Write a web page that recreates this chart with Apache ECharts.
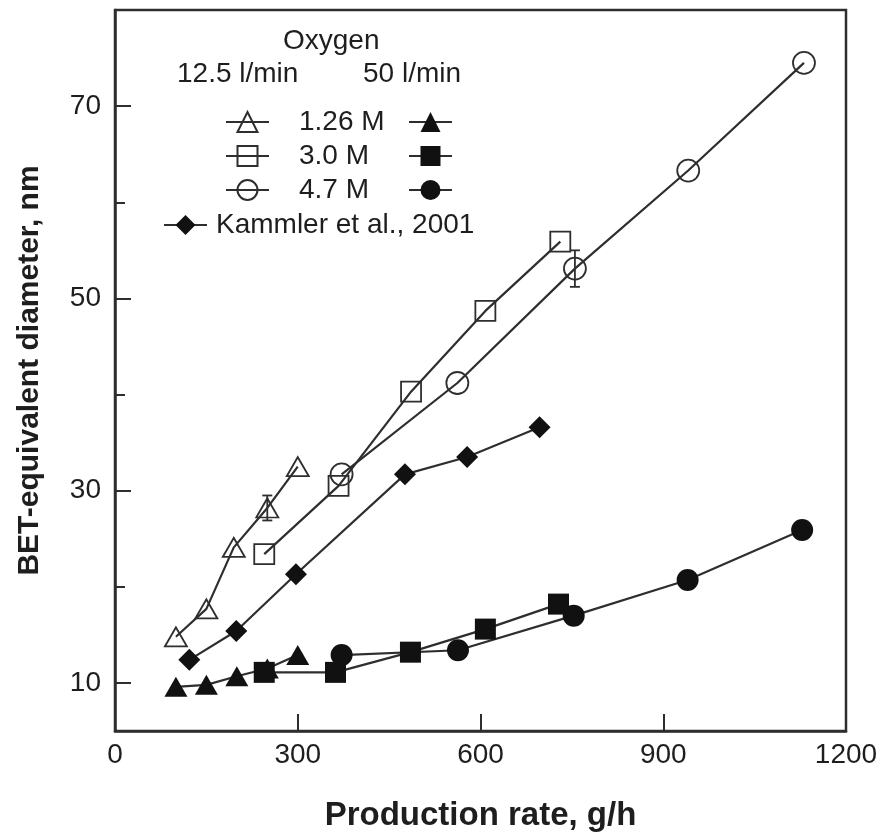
<!DOCTYPE html>
<html>
<head>
<meta charset="utf-8">
<script src="https://cdn.jsdelivr.net/npm/echarts@6/dist/echarts.min.js"></script>
<style>
  html, body { margin: 0; padding: 0; background: #fff; }
  #chart { width: 885px; height: 838px; }
</style>
</head>
<body>
<div id="chart"></div>
<script>
// production rate (g/h) and BET diameter (nm)
var open126X = [100, 150, 195, 250, 300];
var open126Y = [14.8, 17.7, 24.1, 28.2, 32.5];
var open30X = [245, 367, 486, 608, 731];
var open30Y = [23.4, 30.5, 40.3, 48.7, 55.9];
var open47X = [372, 562, 755, 941, 1131];
var open47Y = [31.7, 41.2, 53.1, 63.3, 74.5];

var fill126X = [100, 150, 200, 250, 300];
var fill126Y = [9.6, 9.8, 10.7, 11.5, 12.9];
var fill30X = [245, 362, 485, 608, 728];
var fill30Y = [11.1, 11.1, 13.2, 15.6, 18.2];
var fill47X = [372, 563, 753, 940, 1128];
var fill47Y = [12.9, 13.4, 17.0, 20.7, 25.9];

var kammlerX = [122, 199, 297, 476, 578, 697];
var kammlerY = [12.4, 15.4, 21.3, 31.7, 33.5, 36.6];

// error bars
var errX = [250, 755];
var errLo = [26.9, 51.2];
var errHi = [29.5, 55.0];

var xTicks = [300, 600, 900];
var yLabels = [10, 30, 50, 70];
var yMinorTicks = [20, 40, 60];

var INK = '#1e1e1e';
var LINE = '#2e2e2e';
var FONT = 'Liberation Sans, Arial, sans-serif';

function pairs(xs, ys) {
  return xs.map(function (x, i) { return [x, ys[i]]; });
}

function lineSeries(name, xs, ys, symbol, size, hollow) {
  return {
    name: name,
    type: 'line',
    data: pairs(xs, ys),
    symbol: symbol,
    symbolSize: size,
    lineStyle: { color: LINE, width: 2.2 },
    itemStyle: hollow
      ? { color: 'rgba(0,0,0,0)', borderColor: LINE, borderWidth: 1.8 }
      : { color: '#111', borderColor: '#111', borderWidth: 0 },
    z: 3,
    animation: false
  };
}

var chart = echarts.init(document.getElementById('chart'));

var option = {
  backgroundColor: '#fff',
  textStyle: { fontFamily: FONT },
  grid: {
    left: 115, right: 39, top: 10, bottom: 107,
    show: true, borderColor: LINE, borderWidth: 2.5,
    outerBoundsMode: 'none'
  },
  xAxis: {
    type: 'value',
    min: 0, max: 1200, interval: 300,
    name: 'Production rate, g/h',
    nameLocation: 'middle',
    nameGap: 68,
    nameTextStyle: { fontSize: 33, fontWeight: 'bold', color: INK, fontFamily: FONT },
    axisLine: { show: true, lineStyle: { color: LINE, width: 2.5 } },
    axisTick: { show: true, inside: true, length: 17, customValues: xTicks, lineStyle: { color: LINE, width: 2 } },
    axisLabel: { fontSize: 28, color: INK, margin: 10, fontFamily: FONT, formatter: function (v) { return String(v); } },
    splitLine: { show: false }
  },
  yAxis: [{
    type: 'value',
    min: 5, max: 80,
    name: 'BET-equivalent diameter, nm',
    nameLocation: 'middle',
    nameGap: 70,
    nameTextStyle: { fontSize: 30, fontWeight: 'bold', color: INK, fontFamily: FONT },
    axisLine: { show: true, lineStyle: { color: LINE, width: 2.5 } },
    axisTick: { show: true, inside: true, length: 16, customValues: yLabels, lineStyle: { color: LINE, width: 2 } },
    axisLabel: { fontSize: 28, color: INK, margin: 14, customValues: yLabels, fontFamily: FONT },
    splitLine: { show: false }
  }, {
    type: 'value',
    min: 5, max: 80,
    position: 'left',
    axisLine: { show: false },
    axisTick: { show: true, inside: true, length: 10, customValues: yMinorTicks, lineStyle: { color: LINE, width: 2 } },
    axisLabel: { show: false },
    splitLine: { show: false }
  }],
  legend: [{
    data: ['1.26 M, 12.5 l/min', '3.0 M, 12.5 l/min', '4.7 M, 12.5 l/min'],
    orient: 'vertical',
    left: 220, top: 103,
    itemWidth: 43, itemHeight: 25, itemGap: 6,
    selectedMode: false,
    formatter: function (n) { return n.split(',')[0]; },
    textStyle: { fontSize: 28, color: INK, padding: [0, 0, 0, 25], fontFamily: FONT }
  }, {
    data: ['1.26 M, 50 l/min', '3.0 M, 50 l/min', '4.7 M, 50 l/min'],
    orient: 'vertical',
    left: 403, top: 103,
    itemWidth: 43, itemHeight: 25, itemGap: 6,
    selectedMode: false,
    formatter: function () { return ' '; },
    textStyle: { fontSize: 28, color: INK, fontFamily: FONT }
  }, {
    data: ['Kammler et al., 2001'],
    left: 158, top: 206,
    itemWidth: 43, itemHeight: 25,
    selectedMode: false,
    textStyle: { fontSize: 28, color: INK, padding: [0, 0, 0, 4], fontFamily: FONT }
  }],
  graphic: [
    { type: 'text', left: 283, top: 27, style: { text: 'Oxygen', fontSize: 28, fill: INK, fontFamily: FONT } },
    { type: 'text', left: 177, top: 60, style: { text: '12.5 l/min', fontSize: 28, fill: INK, fontFamily: FONT } },
    { type: 'text', left: 363, top: 60, style: { text: '50 l/min', fontSize: 28, fill: INK, fontFamily: FONT } }
  ],
  series: [
    {
      type: 'custom',
      name: 'error',
      z: 1,
      animation: false,
      data: errX.map(function (x, i) { return [x, errLo[i], errHi[i]]; }),
      renderItem: function (params, api) {
        var lo = api.coord([api.value(0), api.value(1)]);
        var hi = api.coord([api.value(0), api.value(2)]);
        var w = 5;
        var st = { stroke: LINE, lineWidth: 1.8 };
        return {
          type: 'group',
          children: [
            { type: 'line', shape: { x1: lo[0], y1: lo[1], x2: hi[0], y2: hi[1] }, style: st },
            { type: 'line', shape: { x1: lo[0] - w, y1: lo[1], x2: lo[0] + w, y2: lo[1] }, style: st },
            { type: 'line', shape: { x1: hi[0] - w, y1: hi[1], x2: hi[0] + w, y2: hi[1] }, style: st }
          ]
        };
      }
    },
    lineSeries('1.26 M, 12.5 l/min', open126X, open126Y, 'triangle', [22, 19], true),
    lineSeries('3.0 M, 12.5 l/min', open30X, open30Y, 'rect', 20, true),
    lineSeries('4.7 M, 12.5 l/min', open47X, open47Y, 'circle', 22, true),
    lineSeries('1.26 M, 50 l/min', fill126X, fill126Y, 'triangle', [23, 20], false),
    lineSeries('3.0 M, 50 l/min', fill30X, fill30Y, 'rect', 21, false),
    lineSeries('4.7 M, 50 l/min', fill47X, fill47Y, 'circle', 22, false),
    lineSeries('Kammler et al., 2001', kammlerX, kammlerY, 'diamond', 22, false)
  ]
};

chart.setOption(option);
</script>
</body>
</html>
